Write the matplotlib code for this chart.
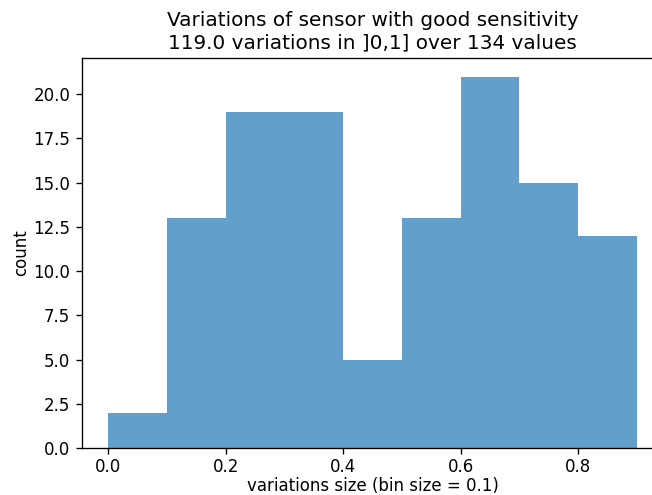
import matplotlib
matplotlib.use("Agg")
import matplotlib.pyplot as plt
import numpy as np

bin_edges = [0.0, 0.1, 0.2, 0.3, 0.4, 0.5, 0.6, 0.7, 0.8, 0.9]
counts = [2, 13, 19, 19, 5, 13, 21, 15, 12]

DPI = 120
fig = plt.figure(figsize=(652 / DPI, 495 / DPI), dpi=DPI)
ax = fig.add_axes([82 / 652, 47 / 495, 581 / 652, 390 / 495])
centers = [(a + b) / 2 for a, b in zip(bin_edges[:-1], bin_edges[1:])]
ax.hist(centers, bins=bin_edges, weights=counts, color="C0", alpha=0.7)
ax.tick_params(axis="x", pad=2.5)
ax.set_xlabel("variations size (bin size = 0.1)", labelpad=0.5)
ax.set_ylabel("count", labelpad=2)
ax.set_title("Variations of sensor with good sensitivity\n119.0 variations in ]0,1] over 134 values")
fig.savefig("out.png", dpi=DPI)
